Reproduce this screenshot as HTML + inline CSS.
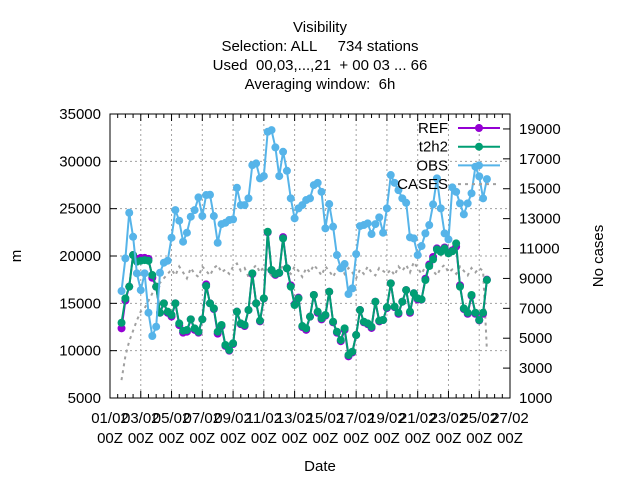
<!DOCTYPE html>
<html><head><meta charset="utf-8"><style>
body{margin:0;background:#fff}
svg text{font-family:"Liberation Sans",sans-serif;font-size:15px;fill:#000}
</style></head><body>
<svg id="c" width="640" height="480" xmlns="http://www.w3.org/2000/svg">
<g id="titles" text-anchor="middle">
<text x="320" y="32">Visibility</text>
<text x="320" y="51" xml:space="preserve">Selection: ALL     734 stations</text>
<text x="320" y="70" xml:space="preserve">Used  00,03,...,21  + 00 03 ... 66</text>
<text x="320" y="89" xml:space="preserve">Averaging window:  6h</text>
</g>
<g id="grid"></g>
<g id="axes"></g>
<g id="series"></g>
<g id="legend"></g>
<text x="320" y="471" text-anchor="middle">Date</text>
<text x="21" y="256" text-anchor="middle" transform="rotate(-90 21 256)">m</text>
<text x="603" y="256" text-anchor="middle" transform="rotate(-90 603 256)">No cases</text>
</svg>
<script>
const xTickLabels=["01/02","03/02","05/02","07/02","09/02","11/02","13/02","15/02","17/02","19/02","21/02","23/02","25/02","27/02"];
const yTicks=[5000,10000,15000,20000,25000,30000,35000];
const y2Ticks=[1000,3000,5000,7000,9000,11000,13000,15000,17000,19000];
const startDay=0.75, stepDay=0.25;
const obs=[16300,19750,24570,22030,18170,16400,18170,14010,11550,12530,18230,19290,19500,21930,24850,23730,21510,22460,24150,24850,26190,24220,26440,26470,24220,21400,23370,23510,23800,23870,27210,25380,25380,26090,
29600,29780,28200,28440,33120,33300,31470,28440,31010,29000,26090,23980,25030,25380,25910,26090,27490,27730,26780,22920,25490,23100,20100,18700,19150,15980,16580,20200,23160,23270,23450,22320,23370,
24080,22460,25030,28550,27730,26960,26090,25620,21970,21860,20100,21050,22390,23270,25450,28200,25030,22390,21760,27250,26780,25560,24400,25560,26620,29430,28410,26090,28120];
const t2h2=[12950,15530,16760,20100,19400,19500,19570,19500,17990,16760,14010,15000,14120,13770,15000,12880,12110,12180,13310,12360,12000,13310,16830,15000,14470,12000,12710,10600,10070,10780,14120,12880,12710,14290,
18170,15000,13170,15530,22560,18520,18100,18230,21860,18700,16760,14820,15530,12600,12360,13590,15880,14120,13420,13770,16230,13060,12000,11120,12360,9540,9890,11650,14290,13060,12880,12530,15170,
13170,13240,14580,17110,14650,14010,15170,16400,14120,16060,15530,15420,17460,18940,19640,20700,20450,20800,20280,20500,21330,16760,14470,14010,15880,14010,13240,14010,17460];
const ref=[12360,15300,16760,20100,19700,19800,19800,19700,17700,16760,14010,15000,14000,13600,15000,12700,11900,12000,13310,12200,11900,13310,17000,15000,14400,11800,12600,10500,10000,10700,14120,12800,12600,14290,
18100,15000,13100,15500,22500,18500,18000,18200,22000,18700,16900,14900,15600,12500,12200,13590,15880,14000,13300,13700,16230,13000,11900,11000,12200,9400,9800,11650,14290,13000,12800,12400,15170,
13100,13240,14500,17110,14600,13900,15170,16400,14000,16060,15400,15400,17600,19100,19900,20800,20600,20900,20300,20600,21000,16900,14400,13900,15800,13900,13200,13900,17500];
const cases=[2200,3800,4800,5500,6200,6800,7000,7500,8000,8400,8700,9000,9300,9600,9200,9800,9400,9000,9700,9300,9100,9800,9500,9200,9700,9900,9400,9600,9300,9800,10000,9500,9700,9100,9600,9900,9400,9800,9500,9200,9700,9400,9900,9600,9300,9800,9500,9100,9700,9400,9900,9600,9200,9800,9500,9100,9600,9900,9300,9700,9400,9000,9600,9300,9800,9400,9200,9700,9500,9300,9600,9200,9800,9500,9900,9400,10100,9700,9300,9800,10000,9500,9200,9700,9900,9400,9600,9300,9800,9500,9200,9700,9400,9700,9500,4200];
const L=110,R=510,T=114,B=398,NS="http://www.w3.org/2000/svg";
const xS=d=>L+(d/26)*(R-L);
const yS=v=>B-(v-5000)/30000*(B-T);
const y2S=v=>B-(v-1000)/19000*(B-T);
function mk(p,tag,a){const e=document.createElementNS(NS,tag);for(const k in a)e.setAttribute(k,a[k]);p.appendChild(e);return e;}
const grid=document.getElementById('grid'),axes=document.getElementById('axes'),ser=document.getElementById('series'),leg=document.getElementById('legend');
xTickLabels.forEach((lab,i)=>{const x=xS(i*2);
 if(i>0&&i<xTickLabels.length-1){const g=mk(grid,'line',{x1:x,x2:x,y1:T,y2:B,stroke:'#a0a0a0','stroke-dasharray':'2,3'});
 }
 const t=mk(axes,'text',{x:x,y:423,'text-anchor':'middle'});t.textContent=lab;
 
 const t2=mk(axes,'text',{x:x,y:443,'text-anchor':'middle'});t2.textContent='00Z';
 });
for(let d=0;d<=26;d+=0.5){const x=xS(d),len=(d%2===0)?7:4;
 mk(axes,'line',{x1:x,x2:x,y1:B,y2:B-len,stroke:'#000'});mk(axes,'line',{x1:x,x2:x,y1:T,y2:T+len,stroke:'#000'});}
yTicks.forEach(v=>{const y=yS(v);
 if(v>5000&&v<35000){const g=mk(grid,'line',{x1:L,x2:R,y1:y,y2:y,stroke:'#a0a0a0','stroke-dasharray':'2,3'});
 }
 mk(axes,'line',{x1:L,x2:L+7,y1:y,y2:y,stroke:'#000'});
 const t=mk(axes,'text',{x:101,y:y+5,'text-anchor':'end'});t.textContent=v;
 });
y2Ticks.forEach(v=>{const y=y2S(v);
 mk(axes,'line',{x1:R-7,x2:R,y1:y,y2:y,stroke:'#000'});
 const t=mk(axes,'text',{x:519,y:y+5,'text-anchor':'start'});t.textContent=v;
 });
const fr=mk(axes,'rect',{x:L,y:T,width:R-L,height:B-T,fill:'none',stroke:'#000'});

function pts(arr,f){return arr.map((v,i)=>xS(startDay+i*stepDay).toFixed(1)+','+f(v).toFixed(1)).join(' ');}
const cl=mk(ser,'polyline',{points:pts(cases,y2S),fill:'none',stroke:'#a0a0a0','stroke-width':2,'stroke-dasharray':'3,4'});

function series(arr,col,name){const g=mk(ser,'g',{});
 
 mk(g,'polyline',{points:pts(arr,yS),fill:'none',stroke:col,'stroke-width':2});
 arr.forEach((v,i)=>{const c=mk(g,'circle',{cx:xS(startDay+i*stepDay),cy:yS(v),r:4,fill:col});
 });}
series(ref,'#9400d3','ref');series(t2h2,'#009e73','t2h2');series(obs,'#56b4e9','obs');
[['REF','#9400d3',false],['t2h2','#009e73',false],['OBS','#56b4e9',false],['CASES','#a0a0a0',true]].forEach((e,i)=>{
 const y=128+i*18.7;const g=mk(leg,'g',{});
 
 const t=mk(g,'text',{x:448,y:y+5,'text-anchor':'end'});t.textContent=e[0];
 if(e[2])mk(g,'line',{x1:458,x2:500,y1:y,y2:y,stroke:e[1],'stroke-width':2,'stroke-dasharray':'3,4'});
 else{mk(g,'line',{x1:458,x2:500,y1:y,y2:y,stroke:e[1],'stroke-width':2});mk(g,'circle',{cx:479,cy:y,r:4,fill:e[1]});}});
</script>
</body></html>
